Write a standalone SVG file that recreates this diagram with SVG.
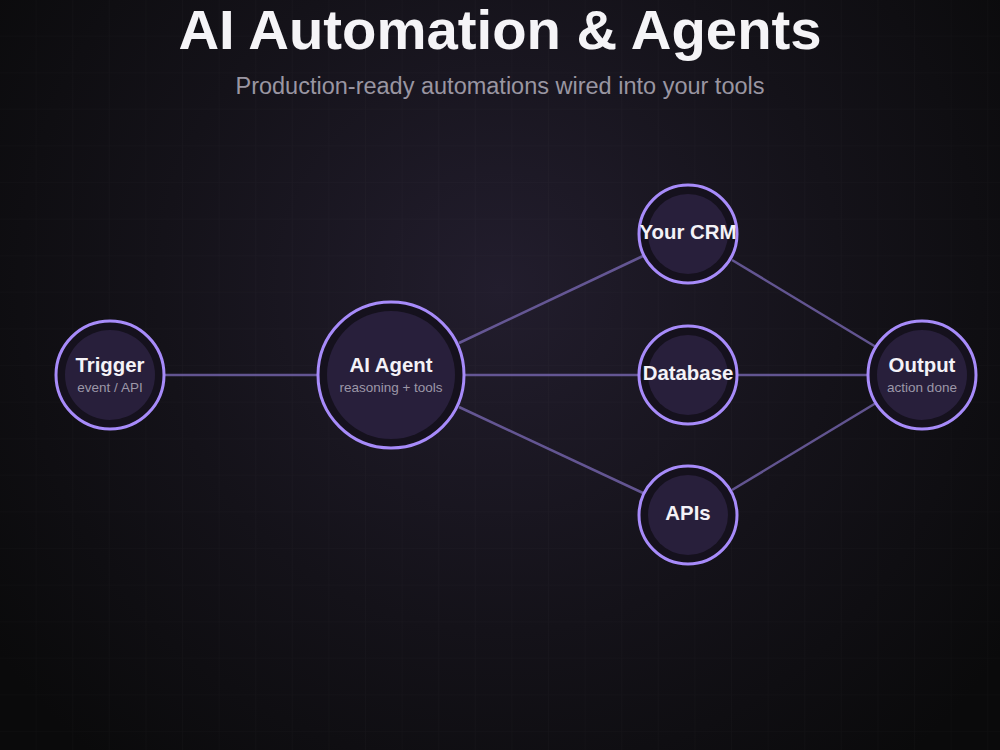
<svg xmlns="http://www.w3.org/2000/svg" width="1000" height="750" viewBox="0 0 1000 750">
<defs>
<radialGradient id="bg" cx="500" cy="290" r="620" gradientUnits="userSpaceOnUse">
<stop offset="0" stop-color="#221d2d"/>
<stop offset="0.55" stop-color="#141219"/>
<stop offset="1" stop-color="#0a0a0b"/>
</radialGradient>
<pattern id="grid" width="36.6" height="36.6" patternUnits="userSpaceOnUse">
<path d="M36.6 0V36.6M0 36.6H36.6" fill="none" stroke="#ffffff" stroke-opacity="0.025" stroke-width="1"/>
</pattern>
<style>
.ring{fill:#15111d;stroke:#a78bfa;stroke-width:3}
.core{fill:#281f3b}
.edge{stroke:#7c6bb8;stroke-opacity:0.75;stroke-width:2.5;fill:none}
.lbl{font-family:"Liberation Sans",Arial,sans-serif;font-weight:bold;font-size:20.4px;fill:#f4f2f7;text-anchor:middle}
.sub{font-family:"Liberation Sans",Arial,sans-serif;font-size:13.5px;fill:#9c97a8;text-anchor:middle}
</style>
</defs>
<rect width="1000" height="750" fill="url(#bg)"/>
<rect width="1000" height="750" fill="url(#grid)"/>
<text x="500" y="49" font-family="'Liberation Sans',Arial,sans-serif" font-weight="bold" font-size="56.3" fill="#f5f4f7" text-anchor="middle">AI Automation &amp; Agents</text>
<text x="500" y="94" font-family="'Liberation Sans',Arial,sans-serif" font-size="23.5" fill="#9a96a2" text-anchor="middle">Production-ready automations wired into your tools</text>
<g id="connectors">
<line class="edge" x1="165" y1="375" x2="317" y2="375"/>
<line class="edge" x1="459" y1="343" x2="643" y2="256"/>
<line class="edge" x1="465" y1="375" x2="638" y2="375"/>
<line class="edge" x1="459" y1="407" x2="643" y2="493"/>
<line class="edge" x1="732" y1="260" x2="876" y2="347"/>
<line class="edge" x1="738" y1="375" x2="867" y2="375"/>
<line class="edge" x1="732" y1="490" x2="876" y2="403"/>
</g>
<g id="trigger">
<circle class="ring" cx="110" cy="375" r="54"/>
<circle class="core" cx="110" cy="375" r="45"/>
<text class="lbl" x="110" y="372">Trigger</text>
<text class="sub" x="110" y="392">event / API</text>
</g>
<g id="agent">
<circle class="ring" cx="391" cy="375" r="73"/>
<circle class="core" cx="391" cy="375" r="64"/>
<text class="lbl" x="391" y="372">AI Agent</text>
<text class="sub" x="391" y="392">reasoning + tools</text>
</g>
<g id="crm">
<circle class="ring" cx="688" cy="234" r="49"/>
<circle class="core" cx="688" cy="234" r="40"/>
<text class="lbl" x="688" y="239">Your CRM</text>
</g>
<g id="database">
<circle class="ring" cx="688" cy="375" r="49"/>
<circle class="core" cx="688" cy="375" r="40"/>
<text class="lbl" x="688" y="380">Database</text>
</g>
<g id="apis">
<circle class="ring" cx="688" cy="515" r="49"/>
<circle class="core" cx="688" cy="515" r="40"/>
<text class="lbl" x="688" y="520">APIs</text>
</g>
<g id="output">
<circle class="ring" cx="922" cy="375" r="54"/>
<circle class="core" cx="922" cy="375" r="45"/>
<text class="lbl" x="922" y="372">Output</text>
<text class="sub" x="922" y="392">action done</text>
</g>
</svg>
